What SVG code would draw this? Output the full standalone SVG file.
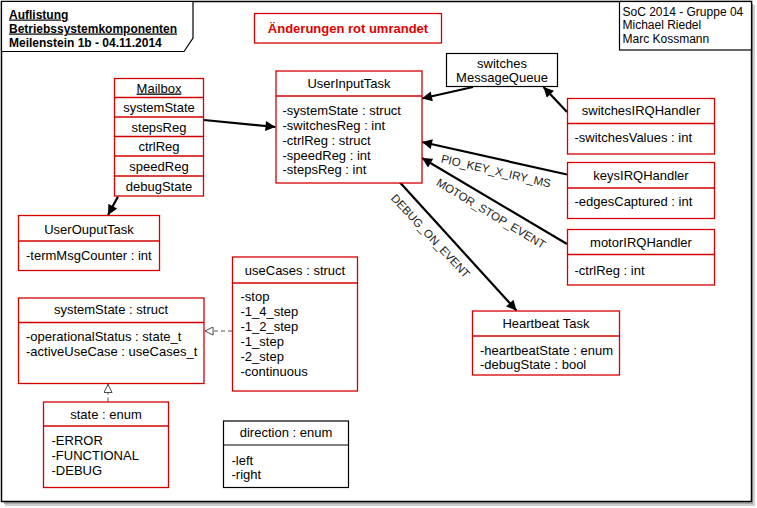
<svg xmlns="http://www.w3.org/2000/svg" width="757" height="508" viewBox="0 0 757 508">
<style>
text{font-family:"Liberation Sans",Arial,sans-serif;font-size:13px;fill:#000}
.t{font-size:12px}
.b{font-weight:bold}
.u{text-decoration:underline}
.m{text-anchor:middle}
.red{fill:#fff;stroke:#d40000;stroke-width:1.3}
.blk{fill:#fff;stroke:#000;stroke-width:1.2}
.sep{stroke:#d40000;stroke-width:1.3}
.sepb{stroke:#000;stroke-width:1.2}
.con{fill:none;stroke:#000;stroke-width:2.2}
.dash{fill:none;stroke:#555;stroke-width:1;stroke-dasharray:4,3}
.lbl{font-size:11.5px;fill:#222;text-anchor:middle}
</style>
<defs>
<marker id="arr" viewBox="0 0 10 10" refX="10" refY="5" markerWidth="11" markerHeight="10" markerUnits="userSpaceOnUse" orient="auto">
<path d="M0,0 L10,5 L0,10 z" fill="#000"/>
</marker>
<marker id="tri" viewBox="0 0 10 10" refX="10" refY="5" markerWidth="9" markerHeight="9" markerUnits="userSpaceOnUse" orient="auto">
<path d="M0.5,0.5 L9.5,5 L0.5,9.5 z" fill="#fff" stroke="#333" stroke-width="1"/>
</marker>
</defs>
<rect x="0" y="0" width="757" height="508" fill="#fff"/>
<!-- frame with shadow -->
<g id="frame">
<rect x="5" y="5" width="750" height="501" fill="#cfcfcf"/>
<rect x="4" y="4" width="749" height="500" fill="#a8a8a8"/>
<rect x="1.5" y="1.5" width="750" height="500" fill="#fff" stroke="#000" stroke-width="1.5"/>
</g>
<g id="title">
<path d="M1.5,1.5 H193 V38 L184,51.5 H1.5 Z" fill="#fff" stroke="#000" stroke-width="1.2"/>
<text class="t b u" x="9" y="18.5">Auflistung </text>
<text class="t b u" x="9" y="32.5">Betriebssystemkomponenten</text>
<text class="t b" x="9" y="46.5">Meilenstein 1b - 04.11.2014</text>
</g>
<g id="authors">
<rect x="619.5" y="1.5" width="132" height="48.5" fill="#fff" stroke="#000" stroke-width="1.2"/>
<text class="t" x="622.5" y="15.5">SoC 2014 - Gruppe 04</text>
<text class="t" x="622.5" y="29">Michael Riedel</text>
<text class="t" x="622.5" y="42.5">Marc Kossmann</text>
</g>
<g id="note">
<rect class="red" x="254.5" y="13.5" width="187" height="29.5"/>
<text class="b m" x="348" y="33" style="fill:#e00000">Änderungen rot umrandet</text>
</g>
<g id="connectors">
<path class="con" d="M204,120 L275.5,127" marker-end="url(#arr)"/>
<path class="con" d="M118,196.5 L108,215" marker-end="url(#arr)"/>
<path class="con" d="M473,87 L422,98.5" marker-end="url(#arr)"/>
<path class="con" d="M567,112 L543.5,87" marker-end="url(#arr)"/>
<path class="con" d="M567,174.5 L422,142" marker-end="url(#arr)"/>
<path class="con" d="M567,244 L422,158" marker-end="url(#arr)"/>
<path class="con" d="M400,182.5 L516.5,310.5" marker-end="url(#arr)"/>
<path class="dash" d="M232,331 L204.5,331" marker-end="url(#tri)"/>
<path class="dash" d="M108,401.5 L108,384" marker-end="url(#tri)"/>
<text class="lbl" transform="translate(496,171) rotate(13)" y="4">PIO_KEY_X_IRY_MS</text>
<text class="lbl" transform="translate(491,213.5) rotate(31)" y="4">MOTOR_STOP_EVENT</text>
<text class="lbl" transform="translate(430.5,236) rotate(47)" y="4">DEBUG_ON_EVENT</text>
</g>
<g id="mailbox">
<rect class="red" x="114.5" y="78.5" width="89" height="117.5"/>
<line class="sep" x1="114.5" y1="97.5" x2="203.5" y2="97.5"/>
<line class="sep" x1="114.5" y1="117" x2="203.5" y2="117"/>
<line class="sep" x1="114.5" y1="136.5" x2="203.5" y2="136.5"/>
<line class="sep" x1="114.5" y1="156" x2="203.5" y2="156"/>
<line class="sep" x1="114.5" y1="176" x2="203.5" y2="176"/>
<text class="m u" x="159" y="92.5">Mailbox</text>
<text class="m" x="159" y="112">systemState</text>
<text class="m" x="159" y="131.5">stepsReg</text>
<text class="m" x="159" y="151">ctrlReg</text>
<text class="m" x="159" y="171">speedReg</text>
<text class="m" x="159" y="190.5">debugState</text>
</g>
<g id="userInputTask">
<rect class="red" x="276" y="71" width="146" height="112"/>
<line class="sep" x1="276" y1="96" x2="422" y2="96"/>
<text class="m" x="349" y="88">UserInputTask</text>
<text x="282.5" y="114.5">-systemState : struct</text>
<text x="282.5" y="129.5">-switchesReg : int</text>
<text x="282.5" y="144.5">-ctrlReg : struct</text>
<text x="282.5" y="159.5">-speedReg : int</text>
<text x="282.5" y="174">-stepsReg : int</text>
</g>
<g id="messageQueue">
<rect class="blk" x="446.5" y="53.5" width="111" height="33"/>
<text class="m" x="502" y="67.5">switches</text>
<text class="m" x="502" y="81.5">MessageQueue</text>
</g>
<g id="switchesIRQHandler">
<rect class="red" x="567.5" y="98.5" width="147" height="55.5"/>
<line class="sep" x1="567.5" y1="123.5" x2="714.5" y2="123.5"/>
<text class="m" x="641" y="115">switchesIRQHandler</text>
<text x="574.5" y="141.5">-switchesValues : int</text>
</g>
<g id="keysIRQHandler">
<rect class="red" x="567.5" y="162.5" width="147" height="56"/>
<line class="sep" x1="567.5" y1="188" x2="714.5" y2="188"/>
<text class="m" x="641" y="179.5">keysIRQHandler</text>
<text x="574.5" y="206">-edgesCaptured : int</text>
</g>
<g id="motorIRQHandler">
<rect class="red" x="567.5" y="229.5" width="147" height="55.5"/>
<line class="sep" x1="567.5" y1="254.5" x2="714.5" y2="254.5"/>
<text class="m" x="641" y="247">motorIRQHandler</text>
<text x="574.5" y="274.5">-ctrlReg : int</text>
</g>
<g id="heartbeatTask">
<rect class="red" x="472.5" y="311" width="147" height="64"/>
<line class="sep" x1="472.5" y1="336" x2="619.5" y2="336"/>
<text class="m" x="546" y="327.5">Heartbeat Task</text>
<text x="480" y="354.5">-heartbeatState : enum</text>
<text x="480" y="369">-debugState : bool</text>
</g>
<g id="userOutputTask">
<rect class="red" x="18.5" y="215.5" width="141" height="55"/>
<line class="sep" x1="18.5" y1="241" x2="159.5" y2="241"/>
<text class="m" x="89" y="233.5">UserOuputTask</text>
<text x="26" y="260">-termMsgCounter : int</text>
</g>
<g id="systemState">
<rect class="red" x="18.5" y="298" width="185.5" height="85.5"/>
<line class="sep" x1="18.5" y1="322.5" x2="204" y2="322.5"/>
<text class="m" x="111" y="314">systemState : struct</text>
<text x="26" y="341">-operationalStatus : state_t</text>
<text x="26" y="356">-activeUseCase : useCases_t</text>
</g>
<g id="useCases">
<rect class="red" x="232.5" y="257" width="125" height="134"/>
<line class="sep" x1="232.5" y1="283" x2="357.5" y2="283"/>
<text class="m" x="295" y="274.5">useCases : struct</text>
<text x="240.5" y="301">-stop</text>
<text x="240.5" y="316">-1_4_step</text>
<text x="240.5" y="331">-1_2_step</text>
<text x="240.5" y="345.5">-1_step</text>
<text x="240.5" y="361">-2_step</text>
<text x="240.5" y="376">-continuous</text>
</g>
<g id="stateEnum">
<rect class="red" x="43.5" y="402" width="125" height="85.5"/>
<line class="sep" x1="43.5" y1="426" x2="168.5" y2="426"/>
<text class="m" x="106" y="418.5">state : enum</text>
<text x="51.5" y="445">-ERROR</text>
<text x="51.5" y="460">-FUNCTIONAL</text>
<text x="51.5" y="474.5">-DEBUG</text>
</g>
<g id="directionEnum">
<rect class="blk" x="223.5" y="421" width="125" height="66.5"/>
<line class="sepb" x1="223.5" y1="445" x2="348.5" y2="445"/>
<text class="m" x="286" y="437">direction : enum</text>
<text x="231.5" y="464.5">-left</text>
<text x="231.5" y="478.5">-right</text>
</g>
</svg>
